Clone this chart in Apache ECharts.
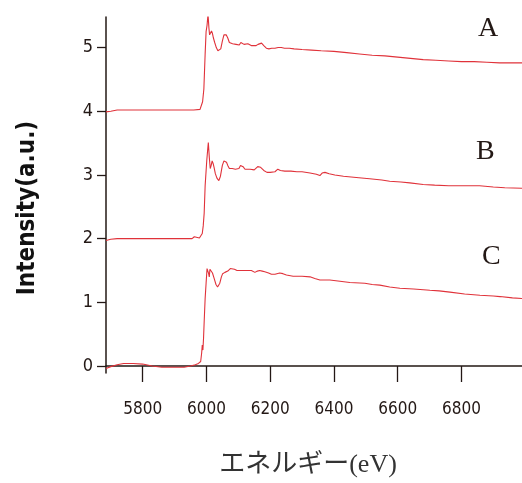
<!DOCTYPE html>
<html>
<head>
<meta charset="utf-8">
<script src="https://cdn.jsdelivr.net/npm/echarts@6/dist/echarts.min.js"></script>
<style>
html,body{margin:0;padding:0;background:#fff;}
#chart{width:522px;height:483px;}
</style>
</head>
<body>
<div id="chart"></div>
<script>
// ---- data ----
var xTicks = [5800, 6000, 6200, 6400, 6600, 6800];
var yTicks = [0, 1, 2, 3, 4, 5];
var seriesNames = ['A', 'B', 'C'];

var energyA = [5685,5700,5720,5800,5900,5960,5980,5984,5988,5992,5996,5999,6002,6005,6006,6008,6010,6013,6016,6019,6022,6026,6031,6036,6040,6045,6050,6055,6058,6062,6067,6072,6077,6082,6088,6093,6098,6103,6108,6113,6118,6123,6130,6136,6142,6148,6155,6162,6168,6173,6180,6188,6196,6205,6215,6225,6235,6245,6260,6275,6300,6330,6360,6400,6440,6480,6520,6560,6600,6640,6680,6720,6760,6800,6840,6880,6920,6960,6990];
var intensityA = [3.99,4.0,4.02,4.02,4.02,4.02,4.03,4.05,4.15,4.35,4.9,5.25,5.35,5.52,5.45,5.3,5.2,5.2,5.26,5.22,5.15,5.08,5.0,4.95,4.94,4.98,5.1,5.2,5.23,5.2,5.15,5.08,5.07,5.06,5.04,5.05,5.08,5.04,5.08,5.11,5.05,5.03,5.06,5.06,5.03,5.03,5.03,5.05,5.07,5.07,5.03,4.99,4.98,4.99,4.99,5.0,5.0,4.99,4.99,4.98,4.97,4.96,4.95,4.94,4.92,4.9,4.88,4.87,4.85,4.83,4.81,4.8,4.79,4.78,4.78,4.77,4.76,4.76,4.76];

var energyB = [5685,5700,5720,5800,5900,5955,5962,5966,5978,5983,5987,5990,5993,5996,6001,6004,6006,6009,6012,6015,6018,6021,6024,6028,6033,6039,6044,6050,6055,6058,6063,6067,6072,6077,6081,6086,6091,6096,6102,6107,6110,6115,6121,6128,6137,6143,6150,6156,6161,6165,6170,6180,6190,6200,6215,6224,6232,6246,6265,6284,6300,6325,6345,6356,6363,6372,6385,6403,6430,6470,6512,6550,6575,6610,6638,6680,6716,6760,6800,6857,6900,6936,6990];
var intensityB = [1.97,1.99,2.0,2.0,2.0,2.0,2.03,2.0,2.01,2.03,2.08,2.2,2.4,2.83,3.22,3.4,3.51,3.28,3.1,3.15,3.22,3.18,3.12,3.02,2.95,2.91,2.98,3.15,3.22,3.24,3.2,3.15,3.1,3.07,3.1,3.12,3.09,3.08,3.1,3.15,3.16,3.13,3.09,3.09,3.09,3.06,3.08,3.1,3.13,3.15,3.12,3.07,3.04,3.04,3.05,3.09,3.07,3.06,3.06,3.05,3.05,3.03,3.01,2.99,3.03,3.04,3.02,3.0,2.98,2.96,2.94,2.92,2.9,2.89,2.875,2.85,2.84,2.83,2.83,2.83,2.81,2.8,2.79];

var energyC = [5685,5700,5720,5740,5770,5800,5830,5860,5900,5930,5950,5965,5975,5982,5985,5987,5989,5991,5993,5996,5999,6002,6005,6007,6009,6011,6014,6016,6019,6024,6030,6035,6038,6042,6047,6051,6058,6067,6075,6081,6088,6096,6110,6125,6141,6152,6160,6167,6175,6183,6195,6204,6215,6230,6240,6251,6272,6300,6325,6340,6356,6387,6419,6450,6497,6520,6544,6575,6607,6650,6701,6730,6764,6810,6858,6900,6921,6960,6990];
var intensityC = [-0.04,-0.01,0.02,0.04,0.04,0.03,0.0,-0.02,-0.02,-0.02,0.0,0.02,0.04,0.07,0.2,0.33,0.25,0.44,0.7,1.06,1.3,1.53,1.5,1.45,1.4,1.52,1.53,1.54,1.46,1.38,1.28,1.24,1.23,1.3,1.4,1.45,1.47,1.49,1.53,1.56,1.52,1.5,1.5,1.5,1.5,1.47,1.49,1.5,1.49,1.48,1.46,1.44,1.44,1.46,1.45,1.43,1.41,1.41,1.4,1.375,1.35,1.35,1.33,1.31,1.3,1.28,1.27,1.24,1.22,1.21,1.19,1.18,1.16,1.13,1.11,1.1,1.09,1.07,1.06];

var xAxisTitle = 'エネルギー(eV)';
var yAxisTitle = 'Intensity(a.u.)';

function pairs(xs, ys) {
  var out = [];
  for (var i = 0; i < xs.length; i++) out.push([xs[i], ys[i]]);
  return out;
}

var axisColor = '#231815';
var lineColor = '#e0323a';
var tickFont = "'Liberation Sans Narrow','DejaVu Sans Condensed','Roboto Condensed',sans-serif";
var serifFont = "'Liberation Serif','Noto Sans CJK JP',serif";

var chart = echarts.init(document.getElementById('chart'), null, {renderer: 'canvas'});
var lineSeries = [[energyA, intensityA], [energyB, intensityB], [energyC, intensityC]].map(function (d, i) {
  return {
    name: seriesNames[i],
    type: 'line',
    data: pairs(d[0], d[1]),
    showSymbol: false,
    smooth: false,
    lineStyle: {color: lineColor, width: 1.1},
    itemStyle: {color: lineColor},
    animation: false
  };
});

chart.setOption({
  backgroundColor: '#ffffff',
  animation: false,
  grid: {left: 106, right: 0, top: 17, bottom: 108, containLabel: false},
  xAxis: {
    type: 'value',
    min: 5685,
    max: 6990,
    name: xAxisTitle,
    nameLocation: 'middle',
    nameGap: 79,
    nameTextStyle: {fontFamily: serifFont, fontSize: 26, color: '#333', padding: [0, 12, 0, 0]},
    axisLine: {lineStyle: {color: axisColor, width: 1.5}},
    axisTick: {show: true, inside: false, length: 16, customValues: xTicks, lineStyle: {color: axisColor, width: 1.3}},
    axisLabel: {customValues: xTicks, margin: 28, fontFamily: tickFont, fontSize: 17, color: axisColor,
      formatter: function (v) { return String(v); }},
    splitLine: {show: false}
  },
  yAxis: {
    type: 'value',
    min: -0.11,
    max: 5.48,
    name: yAxisTitle,
    nameLocation: 'middle',
    nameGap: 66,
    nameTextStyle: {fontFamily: tickFont, fontWeight: 'bold', fontSize: 24, color: '#111', padding: [0, 26, 0, 0]},
    axisLine: {lineStyle: {color: axisColor, width: 1.5}},
    axisTick: {show: true, inside: false, length: 9, customValues: yTicks, lineStyle: {color: axisColor, width: 1.3}},
    axisLabel: {customValues: yTicks, margin: 13, fontFamily: tickFont, fontSize: 18, color: axisColor,
      formatter: function (v) { return String(v); }},
    splitLine: {show: false}
  },
  graphic: [
    {type: 'text', left: 478, top: 15, style: {text: seriesNames[0], font: "28px 'Liberation Serif', serif", fill: '#231815'}},
    {type: 'text', left: 476, top: 138, style: {text: seriesNames[1], font: "28px 'Liberation Serif', serif", fill: '#231815'}},
    {type: 'text', left: 482, top: 243, style: {text: seriesNames[2], font: "28px 'Liberation Serif', serif", fill: '#231815'}}
  ],
  series: lineSeries
});
</script>
</body>
</html>
